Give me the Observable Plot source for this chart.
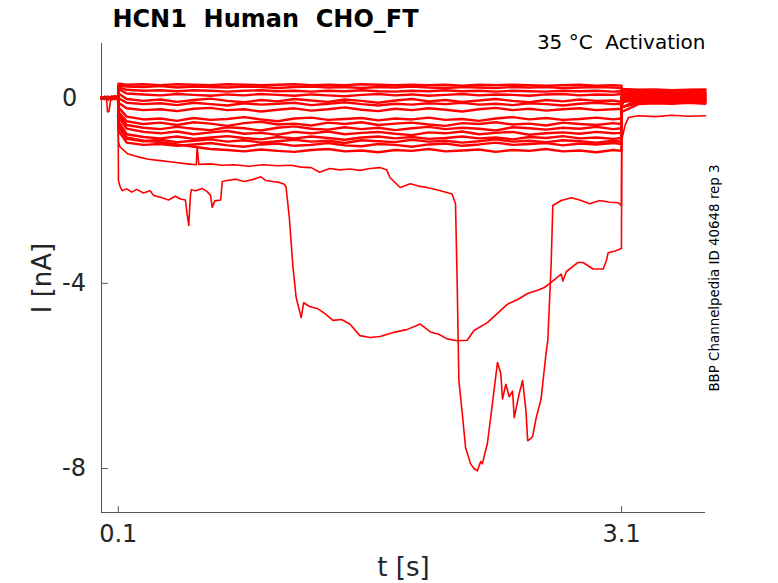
<!DOCTYPE html>
<html>
<head>
<meta charset="utf-8">
<script src="https://cdn.jsdelivr.net/npm/d3@7"></script>
<script src="https://cdn.jsdelivr.net/npm/@observablehq/plot@0.6"></script>
<style>
  html, body { margin: 0; padding: 0; background: #ffffff; }
  svg text { white-space: pre; }
</style>
</head>
<body>
<div id="chart"></div>
<script>
// ---- text ----
const titleText = "HCN1  Human  CHO_FT";
const conditionText = "35 °C  Activation";
const sideText = "BBP Channelpedia ID 40648 rep 3";
const xLabel = "t [s]";
const yLabel = "I [nA]";

// ---- axes ----
const xDomain = [0, 3.6];
const yDomain = [-8.95, 1.18];
const xTicks = [0.1, 3.1];
const yTicks = [0, -4, -8];

// ---- shared sample times of the small sweeps (s) ----
const sweepTimes = [0, 0.02, 0.04, 0.06, 0.08, 0.099,
  0.101, 0.15, 0.25, 0.35, 0.45, 0.55, 0.65, 0.75, 0.85, 0.95, 1.05, 1.15, 1.25, 1.35, 1.45,
  1.55, 1.65, 1.75, 1.85, 1.95, 2.05, 2.15, 2.25, 2.35, 2.45, 2.55, 2.65, 2.75, 2.85, 2.95, 3.05, 3.099,
  3.101, 3.2, 3.3, 3.4, 3.5, 3.6];

// ---- small sweeps, current (nA) at sweepTimes ----
const sweep01 = [0.01,-0.02,0.02,0.0,0.03,0.01,
  0.31,0.29,0.30,0.28,0.30,0.29,0.28,0.30,0.29,0.28,0.29,0.30,0.28,0.29,0.28,0.30,0.29,0.28,0.29,0.28,
  0.29,0.27,0.29,0.28,0.29,0.28,0.27,0.28,0.29,0.27,0.28,0.27,
  0.20,0.18,0.19,0.17,0.18,0.19];
const sweep02 = [-0.01,0.02,0.0,0.03,-0.02,0.01,
  0.27,0.25,0.24,0.26,0.23,0.25,0.24,0.23,0.25,0.24,0.22,0.24,0.25,0.23,0.24,0.22,0.24,0.23,0.25,0.23,
  0.22,0.24,0.23,0.22,0.24,0.23,0.24,0.22,0.23,0.24,0.23,0.22,
  0.17,0.15,0.16,0.14,0.15,0.16];
const sweep03 = [0.02,0.0,-0.03,0.01,0.04,0.0,
  0.24,0.18,0.16,0.17,0.15,0.17,0.16,0.14,0.16,0.17,0.15,0.16,0.14,0.16,0.15,0.17,0.15,0.14,0.16,0.15,
  0.17,0.15,0.16,0.14,0.16,0.15,0.14,0.16,0.15,0.16,0.14,0.15,
  0.13,0.12,0.14,0.11,0.13,0.12];
const sweep04 = [0.0,0.03,0.01,-0.02,0.02,0.04,
  0.20,0.10,0.08,0.06,0.09,0.07,0.05,0.08,0.06,0.09,0.07,0.05,0.08,0.06,0.04,0.07,0.09,0.06,0.08,0.05,
  0.07,0.09,0.06,0.08,0.07,0.05,0.08,0.09,0.06,0.08,0.07,0.09,
  0.11,0.09,0.10,0.12,0.09,0.10];
const sweep05 = [-0.02,0.01,0.03,0.0,-0.01,0.02,
  0.10,-0.02,-0.06,-0.03,-0.08,-0.04,-0.01,-0.06,-0.09,-0.04,-0.07,-0.02,-0.05,-0.08,-0.03,-0.06,-0.10,-0.05,-0.02,-0.07,
  -0.04,-0.08,-0.05,-0.02,-0.06,-0.09,-0.04,-0.07,-0.03,-0.06,-0.05,-0.08,
  0.08,0.07,0.09,0.06,0.08,0.07];
const sweep06 = [0.03,-0.01,0.0,0.02,0.01,-0.02,
  0.0,-0.10,-0.13,-0.11,-0.15,-0.10,-0.13,-0.16,-0.11,-0.14,-0.12,-0.10,-0.15,-0.12,-0.09,-0.13,-0.16,-0.12,-0.14,-0.11,
  -0.13,-0.10,-0.14,-0.12,-0.15,-0.11,-0.13,-0.16,-0.12,-0.10,-0.13,-0.12,
  0.05,0.06,0.04,0.06,0.05,0.04];
const sweep07 = [0.0,0.02,-0.02,0.01,0.03,0.0,
  -0.10,-0.22,-0.26,-0.24,-0.28,-0.23,-0.21,-0.26,-0.24,-0.29,-0.25,-0.22,-0.27,-0.24,-0.20,-0.25,-0.28,-0.23,-0.26,-0.22,
  -0.25,-0.29,-0.24,-0.21,-0.26,-0.23,-0.27,-0.24,-0.22,-0.26,-0.24,-0.23,
  0.03,0.02,0.04,0.01,0.03,0.02];
const sweep08 = [0.01,0.0,0.02,-0.03,0.0,0.02,
  -0.20,-0.40,-0.46,-0.44,-0.49,-0.43,-0.47,-0.45,-0.41,-0.46,-0.50,-0.44,-0.42,-0.47,-0.45,-0.43,-0.48,-0.44,-0.46,-0.42,
  -0.47,-0.45,-0.49,-0.44,-0.41,-0.46,-0.43,-0.47,-0.45,-0.42,-0.46,-0.44,
  0.0,0.01,-0.01,0.02,0.0,-0.01];
const sweep09 = [-0.01,0.03,0.0,0.01,-0.02,0.03,
  -0.30,-0.50,-0.56,-0.53,-0.58,-0.52,-0.55,-0.60,-0.54,-0.51,-0.57,-0.55,-0.59,-0.53,-0.56,-0.52,-0.58,-0.55,-0.53,-0.57,
  -0.60,-0.54,-0.56,-0.52,-0.57,-0.55,-0.59,-0.53,-0.56,-0.58,-0.54,-0.56,
  -0.02,-0.01,-0.03,-0.02,0.0,-0.02];
const sweep10 = [0.02,-0.01,0.01,0.03,0.0,-0.01,
  -0.35,-0.58,-0.64,-0.67,-0.62,-0.66,-0.69,-0.63,-0.65,-0.70,-0.64,-0.61,-0.66,-0.68,-0.63,-0.67,-0.64,-0.69,-0.65,-0.62,
  -0.67,-0.64,-0.66,-0.70,-0.63,-0.65,-0.68,-0.64,-0.66,-0.62,-0.67,-0.65,
  -0.04,-0.05,-0.03,-0.06,-0.04,-0.05];
const sweep11 = [0.0,0.01,-0.01,0.02,0.04,0.01,
  -0.40,-0.66,-0.73,-0.76,-0.72,-0.78,-0.74,-0.71,-0.77,-0.75,-0.79,-0.73,-0.76,-0.72,-0.78,-0.75,-0.73,-0.77,-0.80,-0.74,
  -0.76,-0.72,-0.78,-0.75,-0.73,-0.79,-0.76,-0.74,-0.77,-0.73,-0.76,-0.75,
  -0.08,-0.06,-0.07,-0.05,-0.07,-0.06];
const sweep12 = [0.02,0.0,0.03,-0.01,0.01,0.0,
  -0.50,-0.78,-0.84,-0.87,-0.83,-0.88,-0.85,-0.82,-0.86,-0.89,-0.84,-0.87,-0.83,-0.86,-0.90,-0.85,-0.83,-0.87,-0.84,-0.88,
  -0.86,-0.83,-0.87,-0.85,-0.89,-0.84,-0.86,-0.82,-0.87,-0.85,-0.88,-0.86,
  -0.20,-0.10,-0.09,-0.11,-0.08,-0.10];
const sweep13 = [-0.01,0.02,0.01,0.0,0.02,0.03,
  -0.60,-0.88,-0.93,-0.90,-0.95,-0.92,-0.89,-0.94,-0.91,-0.96,-0.93,-0.90,-0.94,-0.92,-0.97,-0.91,-0.93,-0.95,-0.90,-0.94,
  -0.92,-0.96,-0.93,-0.89,-0.94,-0.92,-0.95,-0.91,-0.93,-0.96,-0.92,-0.94,
  -0.30,-0.13,-0.11,-0.12,-0.10,-0.12];
const sweep14 = [0.01,-0.02,0.02,0.01,-0.01,0.02,
  -0.70,-0.96,-1.01,-0.99,-1.03,-1.00,-0.97,-1.02,-1.05,-1.00,-0.98,-1.03,-1.01,-0.97,-1.02,-1.04,-0.99,-1.01,-1.05,-1.00,
  -0.98,-1.03,-1.00,-0.96,-1.01,-0.99,-0.97,-1.02,-0.98,-1.00,-0.97,-0.99,
  -0.10,0.06,0.05,0.07,0.04,0.06];
const sweep15 = [0.0,0.02,-0.01,0.03,0.01,0.0,
  -0.60,-0.85,-0.92,-0.95,-1.00,-1.05,-1.10,-1.12,-1.15,-1.11,-1.14,-1.16,-1.12,-1.10,-1.15,-1.13,-1.17,-1.12,-1.14,-1.10,
  -1.15,-1.13,-1.11,-1.16,-1.12,-1.14,-1.10,-1.15,-1.13,-1.17,-1.12,-1.14,
  -0.20,-0.04,-0.03,-0.05,-0.02,-0.04];

// ---- the two large sweeps, [t (s), I (nA)] ----
const sweepLargeA = [[0,0.01],[0.02,-0.02],[0.03,0.0],[0.036,-0.3],[0.045,-0.28],[0.055,-0.02],[0.07,0.03],[0.085,0.0],[0.099,0.02],
  [0.101,-1.78],[0.11,-1.9],[0.123,-2.0],[0.15,-1.96],[0.18,-2.03],[0.21,-1.97],[0.25,-2.05],[0.29,-2.0],[0.31,-2.1],[0.36,-2.15],
  [0.40,-2.2],[0.44,-2.12],[0.47,-2.18],[0.50,-2.2],[0.51,-2.5],[0.52,-2.75],[0.53,-2.1],[0.535,-1.98],[0.56,-2.0],[0.6,-1.95],
  [0.63,-2.02],[0.65,-2.1],[0.66,-2.36],[0.675,-2.22],[0.71,-2.2],[0.72,-1.8],[0.75,-1.78],[0.8,-1.75],[0.85,-1.8],[0.9,-1.76],
  [0.95,-1.7],[0.98,-1.78],[1.02,-1.8],[1.06,-1.82],[1.09,-1.86],[1.10,-1.92],[1.12,-2.6],[1.14,-3.6],[1.16,-4.3],[1.19,-4.74],
  [1.205,-4.42],[1.24,-4.5],[1.29,-4.55],[1.33,-4.65],[1.38,-4.8],[1.43,-4.78],[1.48,-4.88],[1.54,-5.13],[1.60,-5.17],[1.66,-5.15],
  [1.74,-5.06],[1.82,-5.0],[1.90,-4.88],[1.96,-5.05],[2.01,-5.1],[2.06,-5.2],[2.12,-5.24],[2.18,-5.23],[2.22,-5.02],[2.30,-4.85],
  [2.36,-4.65],[2.42,-4.45],[2.48,-4.35],[2.54,-4.22],[2.60,-4.15],[2.64,-4.09],[2.68,-3.98],[2.74,-3.8],[2.75,-3.95],[2.77,-3.75],
  [2.84,-3.55],[2.87,-3.55],[2.93,-3.69],[2.99,-3.69],[3.01,-3.5],[3.02,-3.34],[3.06,-3.3],[3.099,-3.25],
  [3.101,-0.9],[3.12,-0.6],[3.14,-0.42],[3.2,-0.38],[3.3,-0.4],[3.4,-0.37],[3.5,-0.39],[3.6,-0.38]];
const sweepLargeB = [[0,-0.01],[0.02,0.02],[0.04,-0.01],[0.06,0.03],[0.08,0.0],[0.099,0.01],
  [0.101,-0.95],[0.11,-1.05],[0.155,-1.2],[0.2,-1.25],[0.23,-1.28],[0.28,-1.32],[0.35,-1.35],[0.42,-1.38],[0.51,-1.42],
  [0.565,-1.44],[0.57,-1.05],[0.58,-1.43],[0.65,-1.42],[0.72,-1.45],[0.79,-1.44],[0.88,-1.47],[0.96,-1.44],[1.05,-1.46],
  [1.13,-1.45],[1.19,-1.49],[1.25,-1.5],[1.3,-1.6],[1.36,-1.52],[1.42,-1.55],[1.48,-1.53],[1.54,-1.56],[1.6,-1.52],[1.66,-1.5],
  [1.70,-1.55],[1.72,-1.72],[1.78,-1.93],[1.84,-1.85],[1.89,-1.9],[1.94,-1.93],[2.02,-2.0],[2.09,-2.07],[2.11,-2.28],[2.12,-4.0],
  [2.13,-6.1],[2.15,-6.8],[2.17,-7.55],[2.20,-7.9],[2.22,-8.0],[2.24,-8.05],[2.26,-7.85],[2.27,-7.9],[2.29,-7.6],[2.30,-7.46],
  [2.33,-6.6],[2.36,-5.71],[2.38,-5.95],[2.39,-6.5],[2.41,-6.18],[2.43,-6.45],[2.45,-6.33],[2.46,-6.9],[2.49,-6.38],[2.51,-6.1],
  [2.53,-6.75],[2.54,-7.4],[2.56,-7.35],[2.57,-7.3],[2.59,-6.92],[2.62,-6.5],[2.65,-5.5],[2.66,-5.24],[2.68,-3.6],[2.69,-2.32],
  [2.74,-2.21],[2.80,-2.15],[2.85,-2.2],[2.91,-2.28],[2.97,-2.21],[3.03,-2.25],[3.08,-2.26],[3.099,-2.32],
  [3.101,-0.2],[3.12,0.0],[3.2,0.02],[3.3,0.0],[3.4,0.03],[3.5,0.01],[3.6,0.02]];

// ---- build tables ----
const smallSweeps = [sweep01, sweep02, sweep03, sweep04, sweep05, sweep06, sweep07, sweep08,
  sweep09, sweep10, sweep11, sweep12, sweep13, sweep14, sweep15];
const smallRows = smallSweeps.flatMap((vals, i) => vals.map((v, j) => ({t: sweepTimes[j], I: v, sweep: i})));
const largeRows = [sweepLargeA, sweepLargeB].flatMap((pts, i) => pts.map(([t, v]) => ({t, I: v, sweep: 100 + i})));

const red = "#ff0000";
const axisColor = "#555555";
const labelColor = "#262626";
const tickShape = {draw(context, l) { context.moveTo(0, 0); context.lineTo(0, -l); }};

const chart = Plot.plot({
  width: 778,
  height: 583,
  marginTop: 43,
  marginBottom: 71,
  marginLeft: 101,
  marginRight: 73,
  style: {fontFamily: "DejaVu Sans", background: "#ffffff", overflow: "visible"},
  x: {domain: xDomain, axis: null},
  y: {domain: yDomain, axis: null},
  marks: [
    Plot.line(smallRows, {x: "t", y: "I", z: "sweep", stroke: red, strokeWidth: 2.4}),
    Plot.line(largeRows, {x: "t", y: "I", z: "sweep", stroke: red, strokeWidth: 1.6}),
    // axis lines
    Plot.ruleX([xDomain[0]], {stroke: axisColor, strokeWidth: 1}),
    Plot.ruleY([yDomain[0]], {stroke: axisColor, strokeWidth: 1}),
    // inward ticks
    Plot.vector(xTicks, {x: d => d, frameAnchor: "bottom", length: 6, rotate: 0, anchor: "start", shape: tickShape, stroke: axisColor, strokeWidth: 1}),
    Plot.vector(yTicks, {y: d => d, frameAnchor: "left", length: 6, rotate: 90, anchor: "start", shape: tickShape, stroke: axisColor, strokeWidth: 1}),
    // tick labels
    Plot.text(xTicks, {x: d => d, text: d => d.toFixed(1), frameAnchor: "bottom", dy: 22, textAnchor: "middle", lineAnchor: "middle", fontSize: 24, fill: labelColor}),
    Plot.text(yTicks, {y: d => d, text: d => String(d), frameAnchor: "left", dx: -39.5, textAnchor: "start", lineAnchor: "middle", fontSize: 24, fill: labelColor}),
    // axis labels
    Plot.text([xLabel], {frameAnchor: "bottom", dy: 55, textAnchor: "middle", lineAnchor: "middle", fontSize: 26, fill: labelColor}),
    Plot.text([yLabel], {frameAnchor: "left", dx: -59, rotate: -90, textAnchor: "middle", lineAnchor: "middle", fontSize: 26, fill: labelColor}),
    // titles
    Plot.text([titleText], {frameAnchor: "top-left", dx: 164, dy: -24, textAnchor: "middle", lineAnchor: "middle", fontSize: 24, fontWeight: "bold", fill: "#000000"}),
    Plot.text([conditionText], {frameAnchor: "top-right", dy: -1, textAnchor: "end", lineAnchor: "middle", fontSize: 20, fill: "#000000"}),
    Plot.text([sideText], {frameAnchor: "right", dx: 9.4, rotate: -90, textAnchor: "middle", lineAnchor: "middle", fontSize: 13.4, fill: "#000000"})
  ]
});
document.getElementById("chart").appendChild(chart);
</script>
</body>
</html>
